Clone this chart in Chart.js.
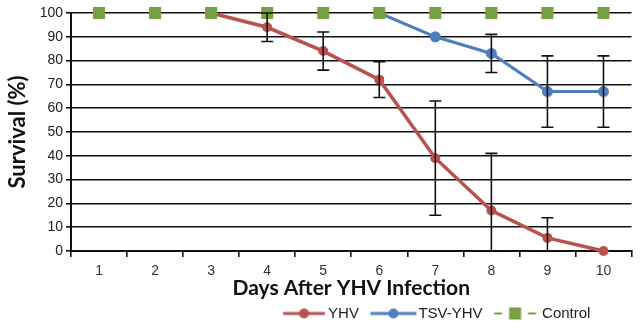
<!DOCTYPE html>
<html>
<head>
<meta charset="utf-8">
<script src="https://cdn.jsdelivr.net/npm/chart.js@4/dist/chart.umd.min.js"></script>
<style>
  html, body { margin: 0; padding: 0; background: #fff; }
  #wrap { width: 640px; height: 329px; }
</style>
</head>
<body>
<div id="wrap"><canvas id="survival" width="640" height="329"></canvas></div>
<script>
const days = ["1", "2", "3", "4", "5", "6", "7", "8", "9", "10"];
const yhv = [null, null, 100, 94, 84, 72, 39, 17, 5.5, 0];
const yhvErr = [null, null, null, 6, 8, 7.5, 24, 24, 8.5, null];
const tsvYhv = [null, null, null, null, null, 100, 90, 83, 67, 67];
const tsvYhvErr = [null, null, null, null, null, null, null, 8, 15, 15];
const control = [100, 100, 100, 100, 100, 100, 100, 100, 100, 100];
const yTicks = [0, 10, 20, 30, 40, 50, 60, 70, 80, 90, 100];

const RED = "#b9514f";
const BLUE = "#4f7ebf";
const GREEN = "#76a043";

// legend samples: a short line with the marker in the middle,
// drawn on a 60px canvas that the legend centres on its box
function sample(color, kind, from, to) {
  const c = document.createElement("canvas");
  c.width = 60;
  c.height = 14;
  const ctx = c.getContext("2d");
  const mid = (from + to) / 2;
  ctx.strokeStyle = color;
  ctx.fillStyle = color;
  if (kind === "rect") {
    ctx.lineWidth = 2;
    ctx.beginPath();
    ctx.moveTo(from, 7); ctx.lineTo(from + 8, 7);
    ctx.moveTo(to - 8, 7); ctx.lineTo(to, 7);
    ctx.stroke();
    ctx.fillRect(mid - 6, 1, 12, 12);
  } else {
    ctx.lineWidth = 3;
    ctx.beginPath();
    ctx.moveTo(from, 7); ctx.lineTo(to, 7);
    ctx.stroke();
    ctx.beginPath();
    ctx.arc(mid, 7, 5, 0, Math.PI * 2);
    ctx.fill();
  }
  return c;
}

const errorBars = {
  id: "errorBars",
  afterDatasetsDraw(chart) {
    const { ctx, chartArea, scales } = chart;
    const sets = [[yhv, yhvErr], [tsvYhv, tsvYhvErr]];
    ctx.save();
    ctx.beginPath();
    ctx.rect(chartArea.left, chartArea.top - 10, chartArea.right - chartArea.left, chartArea.bottom - chartArea.top + 11);
    ctx.clip();
    ctx.strokeStyle = "#111";
    ctx.lineWidth = 1.6;
    sets.forEach(([vals, errs]) => {
      vals.forEach((v, i) => {
        if (v === null || errs[i] === null) return;
        const x = scales.x.getPixelForValue(i);
        const top = scales.y.getPixelForValue(v + errs[i]);
        const bottom = scales.y.getPixelForValue(Math.max(v - errs[i], 0));
        ctx.beginPath();
        ctx.moveTo(x, top); ctx.lineTo(x, bottom);
        ctx.moveTo(x - 6, top); ctx.lineTo(x + 6, top);
        ctx.moveTo(x - 6, bottom); ctx.lineTo(x + 6, bottom);
        ctx.stroke();
      });
    });
    ctx.restore();
  }
};

// push the legend row toward the right, under the later days
const legendShift = {
  id: "legendShift",
  afterLayout(chart) {
    chart.legend.left += 113;
    chart.legend.right += 113;
    chart.legend.top += 2;
    chart.legend.bottom += 2;
  }
};

new Chart(document.getElementById("survival"), {
  type: "line",
  data: {
    labels: days,
    datasets: [
      {
        label: "YHV",
        data: yhv,
        borderColor: RED,
        backgroundColor: RED,
        borderWidth: 3.5,
        pointRadius: 5,
        pointBorderWidth: 0,
        clip: false,
        order: 2,
        legendImage: sample(RED, "circle", 14.5, 56.5)
      },
      {
        label: "TSV-YHV",
        data: tsvYhv,
        borderColor: BLUE,
        backgroundColor: BLUE,
        borderWidth: 3,
        pointRadius: 5.5,
        pointBorderWidth: 0,
        clip: false,
        order: 1,
        legendImage: sample(BLUE, "circle", 11.5, 57.5)
      },
      {
        label: "Control",
        data: control,
        borderColor: GREEN,
        backgroundColor: GREEN,
        showLine: false,
        pointStyle: "rect",
        pointRadius: 8.5,
        pointBorderWidth: 0,
        clip: false,
        order: 0,
        legendImage: sample(GREEN, "rect", 11.5, 53.5)
      }
    ]
  },
  options: {
    responsive: false,
    animation: false,
    devicePixelRatio: 1,
    layout: { padding: { top: 13, right: 4, left: 5, bottom: 0 } },
    scales: {
      x: {
        offset: true,
        grid: { offset: true, drawOnChartArea: false, color: "#111", lineWidth: 1.6, tickLength: 6 },
        border: { color: "#111", width: 2 },
        ticks: { color: "#333", font: { family: "Liberation Sans", size: 14 }, padding: 6 },
        title: {
          display: true,
          text: "Days After YHV Infection",
          color: "#111",
          font: { family: "Lato", size: 21, weight: "bold" },
          padding: { top: 0, bottom: -5 }
        },
        afterFit: (scale) => { scale.height = 45; }
      },
      y: {
        min: 0,
        max: 100,
        afterBuildTicks: (scale) => { scale.ticks = yTicks.map((v) => ({ value: v })); },
        grid: { color: "#111", lineWidth: 1.6, tickLength: 5 },
        border: { color: "#111", width: 2 },
        ticks: { color: "#222", font: { family: "Liberation Sans", size: 14 }, padding: 3 },
        title: {
          display: true,
          text: "Survival (%)",
          color: "#111",
          font: { family: "Lato", size: 22, weight: "bold" },
          padding: { top: 0, bottom: 0 }
        },
        afterFit: (scale) => { scale.width = 66; }
      }
    },
    plugins: {
      tooltip: { enabled: false },
      legend: {
        position: "bottom",
        labels: {
          usePointStyle: true,
          pointStyleWidth: 44,
          padding: 8,
          color: "#222",
          font: { family: "Liberation Sans", size: 15 },
          generateLabels: (chart) => chart.data.datasets.map((ds, i) => ({
            text: ds.label,
            pointStyle: ds.legendImage,
            fillStyle: ds.backgroundColor,
            strokeStyle: ds.borderColor,
            lineWidth: 0,
            hidden: false,
            datasetIndex: i,
            fontColor: "#222"
          }))
        }
      }
    }
  },
  plugins: [errorBars, legendShift]
});
</script>
</body>
</html>
